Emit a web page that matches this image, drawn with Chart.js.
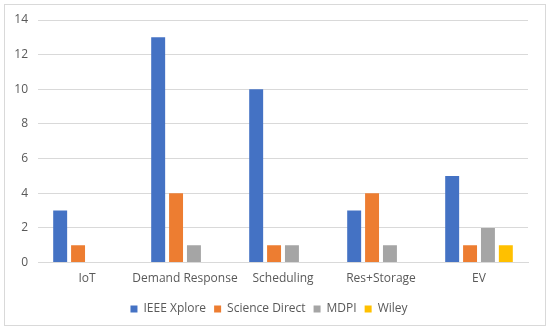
<!DOCTYPE html>
<html>
<head>
<meta charset="utf-8">
<script src="https://cdn.jsdelivr.net/npm/chart.js@4"></script>
<style>
  body { margin: 0; background: #fff; }
  #wrap { position: relative; width: 550px; height: 330px; }
</style>
</head>
<body>
<div id="wrap"><canvas id="chart" width="550" height="330"></canvas></div>
<script>
// Data
const categories = ["IoT", "Demand Response", "Scheduling", "Res+Storage", "EV"];
const ieeeXplore = [3, 13, 10, 3, 5];
const scienceDirect = [1, 4, 1, 4, 1];
const mdpi = [0, 1, 1, 1, 2];
const wiley = [0, 0, 0, 0, 1];
const yTicks = [0, 2, 4, 6, 8, 10, 12, 14];

const fontFamily = "'Open Sans', 'Noto Sans', sans-serif";
const textColor = "#595959";

// Outer frame like the Excel chart border
const framePlugin = {
  id: "frame",
  beforeDraw(chart) {
    const ctx = chart.ctx;
    ctx.save();
    ctx.fillStyle = "#fff";
    ctx.fillRect(0, 0, chart.width, chart.height);
    ctx.strokeStyle = "#d9d9d9";
    ctx.lineWidth = 1;
    ctx.strokeRect(4.5, 4.5, chart.width - 9, chart.height - 9);
    ctx.restore();
  },
};

const ctx = document.getElementById("chart").getContext("2d");
const chart = new Chart(ctx, {
  type: "bar",
  data: {
    labels: categories,
    datasets: [
      { label: "IEEE Xplore", data: ieeeXplore, backgroundColor: "#4472C4" },
      { label: "Science Direct", data: scienceDirect, backgroundColor: "#ED7D31" },
      { label: "MDPI", data: mdpi, backgroundColor: "#A5A5A5" },
      { label: "Wiley", data: wiley, backgroundColor: "#FFC000" },
    ],
  },
  options: {
    responsive: false,
    animation: false,
    datasets: {
      bar: { categoryPercentage: 0.73, barPercentage: 0.78 },
    },
    layout: { padding: { left: 10, right: 22, top: 20, bottom: 5 } },
    scales: {
      x: {
        grid: { display: false, drawTicks: false },
        border: { color: "#d9d9d9" },
        ticks: {
          color: textColor,
          font: { family: fontFamily, size: 12 },
          padding: 9,
          maxRotation: 0,
          minRotation: 0,
          autoSkip: false,
        },
      },
      y: {
        min: 0,
        max: 14,
        afterBuildTicks(axis) {
          axis.ticks = yTicks.map((v) => ({ value: v }));
        },
        afterFit(axis) {
          axis.width = 28;
        },
        grid: { color: "#d9d9d9", drawTicks: false },
        border: { display: false },
        ticks: {
          color: textColor,
          font: { family: fontFamily, size: 12 },
          padding: 10,
        },
      },
    },
    plugins: {
      legend: {
        position: "bottom",
        labels: {
          color: textColor,
          font: { family: fontFamily, size: 12 },
          boxWidth: 7,
          boxHeight: 7,
          padding: 8,
        },
      },
      tooltip: { enabled: false },
    },
  },
  plugins: [framePlugin],
});
</script>
</body>
</html>
